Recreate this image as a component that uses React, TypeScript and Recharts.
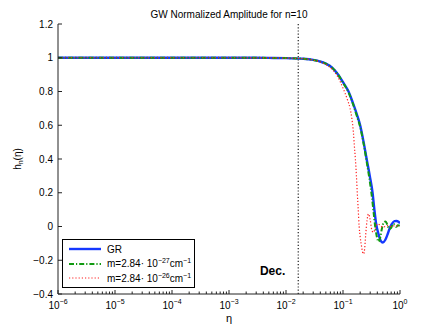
import React from 'react';
import { LineChart, Line, XAxis, YAxis, ReferenceLine, Legend, Customized } from 'recharts';

// conformal time eta and normalized amplitude h_n(eta)
const grEta = [1e-6, 1e-4, 1e-3, 0.005, 0.01, 0.02, 0.03, 0.04, 0.05, 0.065, 0.08, 0.1, 0.125, 0.15, 0.175, 0.2, 0.23, 0.26, 0.295, 0.33, 0.355, 0.38, 0.42, 0.46, 0.5, 0.55, 0.6, 0.66, 0.72, 0.8, 0.87, 0.94, 1];
const grAmp = [1, 1, 1, 0.999, 0.998, 0.994, 0.987, 0.977, 0.965, 0.94, 0.905, 0.855, 0.8, 0.73, 0.665, 0.6, 0.5, 0.4, 0.3, 0.2, 0.1, 0.02, -0.045, -0.085, -0.095, -0.08, -0.05, -0.01, 0.015, 0.032, 0.033, 0.028, 0.02];

const m27Eta = [1e-6, 1e-4, 1e-3, 0.005, 0.01, 0.02, 0.03, 0.04, 0.05, 0.065, 0.08, 0.1, 0.125, 0.15, 0.175, 0.2, 0.23, 0.26, 0.29, 0.32, 0.345, 0.37, 0.395, 0.42, 0.45, 0.48, 0.52, 0.56, 0.6, 0.65, 0.7, 0.75, 0.8, 0.86, 0.92, 1];
const m27Amp = [1, 1, 1, 0.999, 0.998, 0.994, 0.987, 0.977, 0.965, 0.94, 0.905, 0.852, 0.795, 0.725, 0.655, 0.59, 0.49, 0.385, 0.285, 0.18, 0.08, -0.01, -0.065, -0.09, -0.065, -0.015, 0.025, 0.03, 0.01, -0.015, -0.008, 0.015, 0.012, -0.002, 0.008, 0.004];

const m26Eta = [1e-6, 1e-4, 1e-3, 0.005, 0.01, 0.02, 0.03, 0.04, 0.05, 0.065, 0.08, 0.1, 0.12, 0.133, 0.143, 0.152, 0.158, 0.165, 0.172, 0.178, 0.185, 0.192, 0.2, 0.21, 0.22, 0.23, 0.24, 0.25, 0.265, 0.28, 0.3, 0.32, 0.34, 0.37, 0.4, 0.44, 0.5, 0.6, 0.7, 0.8, 1];
const m26Amp = [1, 1, 1, 0.999, 0.998, 0.994, 0.986, 0.975, 0.96, 0.93, 0.89, 0.82, 0.75, 0.7, 0.64, 0.56, 0.48, 0.4, 0.3, 0.2, 0.1, 0.0, -0.06, -0.11, -0.15, -0.163, -0.13, -0.05, 0.04, 0.075, 0.04, -0.02, -0.035, -0.01, 0.015, 0.01, -0.005, 0.005, 0, 0.004, 0.003];

const decEta = 0.0164;

const xMajor = [1e-6, 1e-5, 1e-4, 1e-3, 1e-2, 1e-1, 1];
const xMajorExp = ['−6', '−5', '−4', '−3', '−2', '−1', '0'];
const xMinorMult = [2, 3, 4, 5, 6, 7, 8, 9];
const yTicks = [-0.4, -0.2, 0, 0.2, 0.4, 0.6, 0.8, 1, 1.2];
const yTickLabels = ['−0.4', '−0.2', '0', '0.2', '0.4', '0.6', '0.8', '1', '1.2'];

const legendExp = ['', '−27', '−26'];

const xMinor = xMajor.slice(0, -1).flatMap(d => xMinorMult.map(m => +(m * d).toPrecision(2)));
const xTicks = [...xMajor, ...xMinor].sort((a, b) => a - b);

const toPoints = (eta: number[], amp: number[]) => eta.map((x, i) => ({ x, y: amp[i] }));

const series = [
  { key: 'gr', data: toPoints(grEta, grAmp), color: '#1538ff', width: 2.4, dash: undefined },
  { key: 'm27', data: toPoints(m27Eta, m27Amp), color: '#119a11', width: 2, dash: '5 2 1.2 2' },
  { key: 'm26', data: toPoints(m26Eta, m26Amp), color: '#ff1f1f', width: 1.2, dash: '1.2 2' },
];

const font = '"Liberation Sans", Arial, sans-serif';
const axisColor = '#222';

const isMajor = (v: number) => xMajor.indexOf(v);

const BottomTick = (props: any) => {
  const { x, y, payload } = props;
  const i = isMajor(payload.value);
  return (
    <g>
      <line x1={x} x2={x} y1={y} y2={y - (i >= 0 ? 4 : 2.5)} stroke={axisColor} />
      {i >= 0 && (
        <text x={x} y={y + 15} textAnchor="middle" fontSize={10} fill="#000" fontFamily={font}>
          10<tspan dy={-5} fontSize={7}>{xMajorExp[i]}</tspan>
        </text>
      )}
    </g>
  );
};

const TopTick = (props: any) => {
  const { x, y, payload } = props;
  const len = isMajor(payload.value) >= 0 ? 4 : 2.5;
  return <line x1={x} x2={x} y1={y} y2={y + len} stroke={axisColor} />;
};

const LeftTick = (props: any) => {
  const { x, y, payload } = props;
  const i = yTicks.indexOf(payload.value);
  return (
    <g>
      <line x1={x} x2={x + 4} y1={y} y2={y} stroke={axisColor} />
      <text x={x - 5} y={y + 3.5} textAnchor="end" fontSize={10} fill="#000" fontFamily={font}>
        {yTickLabels[i]}
      </text>
    </g>
  );
};

const RightTick = (props: any) => {
  const { x, y } = props;
  return <line x1={x} x2={x - 4} y1={y} y2={y} stroke={axisColor} />;
};

const sup: React.CSSProperties = { fontSize: 7, position: 'relative', top: -4 };

const LegendBox = () => (
  <div
    style={{
      border: '1px solid #000',
      background: '#fff',
      width: 133,
      height: 49,
      paddingTop: 2,
      boxSizing: 'border-box',
      fontFamily: font,
      fontSize: 10,
      color: '#000',
    }}
  >
    {series.map((s, i) => (
      <div key={s.key} style={{ display: 'flex', alignItems: 'center', height: 14.5, whiteSpace: 'nowrap' }}>
        <svg width={38} height={8} style={{ marginLeft: 6, flex: 'none' }}>
          <line x1={0} x2={32} y1={4} y2={4} stroke={s.color} strokeWidth={s.width} strokeDasharray={s.dash} />
        </svg>
        {i === 0 ? (
          <span>GR</span>
        ) : (
          <span>
            m=2.84· 10<span style={sup}>{legendExp[i]}</span>cm<span style={sup}>−1</span>
          </span>
        )}
      </div>
    ))}
  </div>
);

const Texts = () => (
  <g fontFamily={font} fill="#000">
    <text x={229} y={18} textAnchor="middle" fontSize={10}>GW Normalized Amplitude for n=10</text>
    <text x={229} y={322} textAnchor="middle" fontSize={11}>η</text>
    <text x={21} y={159} textAnchor="middle" fontSize={10} transform="rotate(-90 21 159)">
      h<tspan dy={2} fontSize={7}>n</tspan><tspan dy={-2}>(η)</tspan>
    </text>
  </g>
);

export default function App() {
  return (
    <div style={{ position: 'absolute', left: 0, top: 0, background: '#fff' }}>
      <LineChart width={440} height={331} margin={{ top: 24, right: 40, bottom: 0, left: 0 }} style={{ fontFamily: font }}>
        <XAxis
          dataKey="x"
          type="number"
          scale="log"
          domain={[1e-6, 1]}
          allowDataOverflow
          ticks={xTicks}
          interval={0}
          height={37}
          tickSize={0}
          tickMargin={0}
          tickLine={false}
          tick={BottomTick}
          axisLine={{ stroke: axisColor }}
        />
        <XAxis
          xAxisId="top"
          orientation="top"
          dataKey="x"
          type="number"
          scale="log"
          domain={[1e-6, 1]}
          allowDataOverflow
          ticks={xTicks}
          interval={0}
          height={0}
          tickSize={0}
          tickMargin={0}
          tickLine={false}
          tick={TopTick}
          axisLine={{ stroke: axisColor }}
        />
        <YAxis
          type="number"
          domain={[-0.4, 1.2]}
          allowDataOverflow
          ticks={yTicks}
          interval={0}
          width={58}
          tickSize={0}
          tickMargin={0}
          tickLine={false}
          tick={LeftTick}
          axisLine={{ stroke: axisColor }}
        />
        <YAxis
          yAxisId="right"
          orientation="right"
          type="number"
          domain={[-0.4, 1.2]}
          allowDataOverflow
          ticks={yTicks}
          interval={0}
          width={0}
          tickSize={0}
          tickMargin={0}
          tickLine={false}
          tick={RightTick}
          axisLine={{ stroke: axisColor }}
        />
        <ReferenceLine
          x={decEta}
          stroke="#222"
          strokeWidth={1.2}
          strokeDasharray="1.2 2"
          label={(p: any) => {
            const vb = p.viewBox;
            return (
              <text x={vb.x - 13} y={vb.y + vb.height - 19} textAnchor="end" fontWeight="bold" fontSize={12} fontFamily={font} fill="#000">
                Dec.
              </text>
            );
          }}
        />
        {series.map(s => (
          <Line
            key={s.key}
            data={s.data}
            dataKey="y"
            type="monotone"
            stroke={s.color}
            strokeWidth={s.width}
            strokeDasharray={s.dash}
            dot={false}
            activeDot={false}
            isAnimationActive={false}
          />
        ))}
        <Legend
          layout="vertical"
          align="center"
          verticalAlign="middle"
          wrapperStyle={{ left: 62, top: 239, width: 'auto', height: 'auto' }}
          content={() => <LegendBox />}
        />
        <Customized component={Texts} />
      </LineChart>
    </div>
  );
}
